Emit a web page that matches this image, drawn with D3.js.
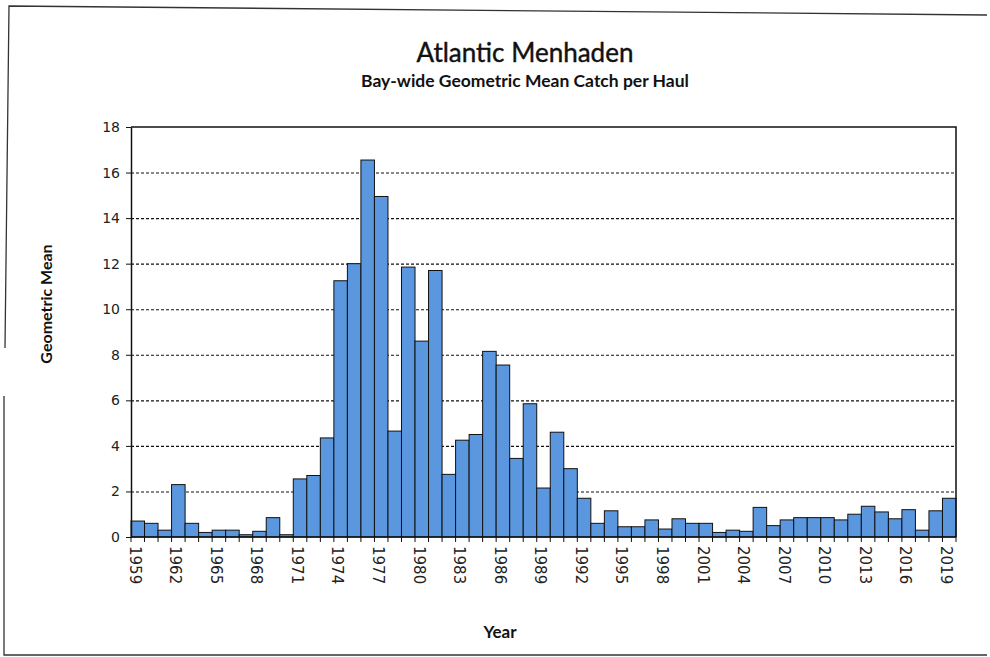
<!DOCTYPE html>
<html>
<head>
<meta charset="utf-8">
<script src="https://cdn.jsdelivr.net/npm/d3@7"></script>
<style>
  body { margin: 0; background: #fff; }
  svg { display: block; }
  .grid line { stroke: #111; stroke-width: 1.1; stroke-dasharray: 3, 2; }
  .grid .domain { display: none; }
</style>
</head>
<body>
<svg id="chart" width="990" height="657"></svg>
<script>
// year labels + geometric mean values
const years = d3.range(1959, 2020);
const values = [
  0.7, 0.6, 0.3, 2.3, 0.6, 0.2, 0.3, 0.3, 0.1, 0.25,
  0.85, 0.1, 2.55, 2.7, 4.35, 11.25, 12.0, 16.55, 14.95, 4.65,
  11.85, 8.6, 11.7, 2.75, 4.25, 4.5, 8.15, 7.55, 3.45, 5.85,
  2.15, 4.6, 3.0, 1.7, 0.6, 1.15, 0.45, 0.45, 0.75, 0.35,
  0.8, 0.6, 0.6, 0.2, 0.3, 0.25, 1.3, 0.5, 0.75, 0.85,
  0.85, 0.85, 0.75, 1.0, 1.35, 1.1, 0.8, 1.2, 0.3, 1.15,
  1.7
];
const yTicks = [0, 2, 4, 6, 8, 10, 12, 14, 16, 18];
const labelYears = years.filter(y => (y - 1959) % 3 === 0);

const data = years.map((y, i) => ({ Year: y, Value: values[i] }));

const svg = d3.select("#chart");
const margin = { top: 127, right: 34, bottom: 120, left: 131 };
const width = 990 - margin.left - margin.right;
const height = 657 - margin.top - margin.bottom;

// scanned page frame
svg.append("path")
  .attr("d", "M5,348 L9,6 L987,15 M4,396 L4,655 L987,655")
  .attr("fill", "none")
  .attr("stroke", "#333")
  .attr("stroke-width", 1.3);

const g = svg.append("g").attr("transform", `translate(${margin.left},${margin.top})`);

const x = d3.scaleBand().domain(years).range([0, width]).padding(0);
const y = d3.scaleLinear().domain([0, 18]).range([height, 0]);

// dashed gridlines
g.append("g")
  .attr("class", "grid")
  .call(d3.axisLeft(y).tickValues(yTicks.slice(1, -1)).tickSize(-width).tickFormat(""));

// bars
g.selectAll(".bar")
  .data(data)
  .enter().append("rect")
  .attr("class", "bar")
  .attr("x", d => x(d.Year))
  .attr("y", d => y(d.Value))
  .attr("width", x.bandwidth())
  .attr("height", d => height - y(d.Value))
  .attr("fill", "#5b97de")
  .attr("stroke", "#111")
  .attr("stroke-width", 1);

// top + right border
g.append("path")
  .attr("d", `M0,0 H${width} V${height}`)
  .attr("fill", "none")
  .attr("stroke", "#111")
  .attr("stroke-width", 1.5);

// y axis
const yAxis = g.append("g")
  .call(d3.axisLeft(y).tickValues(yTicks).tickSize(5).tickPadding(6).tickSizeOuter(0));
yAxis.select(".domain").attr("stroke", "#111").attr("stroke-width", 1.5);
yAxis.selectAll(".tick line").attr("stroke", "#111");
yAxis.selectAll("text")
  .attr("font-family", "DejaVu Sans, sans-serif")
  .attr("font-size", 14)
  .attr("fill", "#222");

// x axis: tick at every bar boundary, labels every third year
const xAxis = g.append("g").attr("transform", `translate(0,${height})`);
xAxis.append("line")
  .attr("x1", 0).attr("x2", width)
  .attr("stroke", "#111").attr("stroke-width", 1.5);
xAxis.selectAll(".xt")
  .data(years.concat([2020]))
  .enter().append("line")
  .attr("class", "xt")
  .attr("x1", d => d === 2020 ? width : x(d))
  .attr("x2", d => d === 2020 ? width : x(d))
  .attr("y1", 0).attr("y2", 5)
  .attr("stroke", "#111");
xAxis.selectAll(".xl")
  .data(labelYears)
  .enter().append("text")
  .attr("class", "xl")
  .attr("transform", d => `translate(${x(d) + x.bandwidth() / 2 - 3},9) rotate(90)`)
  .attr("dy", "0.35em")
  .attr("font-family", "DejaVu Sans, sans-serif")
  .attr("font-size", 15)
  .attr("fill", "#222")
  .text(d => d);

// titles
svg.append("text")
  .attr("x", 525).attr("y", 62)
  .attr("text-anchor", "middle")
  .attr("font-family", "Lato, sans-serif")
  .attr("font-size", 26)
  .attr("fill", "#111")
  .attr("stroke", "#111")
  .attr("stroke-width", 0.4)
  .text("Atlantic Menhaden");
svg.append("text")
  .attr("x", 525).attr("y", 87)
  .attr("text-anchor", "middle")
  .attr("font-family", "Lato, sans-serif")
  .attr("font-weight", "bold")
  .attr("font-size", 17.5)
  .attr("fill", "#111")
  .text("Bay-wide Geometric Mean Catch per Haul");

svg.append("text")
  .attr("transform", "translate(52,304) rotate(-90)")
  .attr("text-anchor", "middle")
  .attr("font-family", "Lato, sans-serif")
  .attr("font-weight", "bold")
  .attr("font-size", 16)
  .attr("fill", "#111")
  .text("Geometric Mean");

svg.append("text")
  .attr("x", 500).attr("y", 638)
  .attr("text-anchor", "middle")
  .attr("font-family", "Lato, sans-serif")
  .attr("font-weight", "bold")
  .attr("font-size", 17)
  .attr("fill", "#111")
  .text("Year");
</script>
</body>
</html>
